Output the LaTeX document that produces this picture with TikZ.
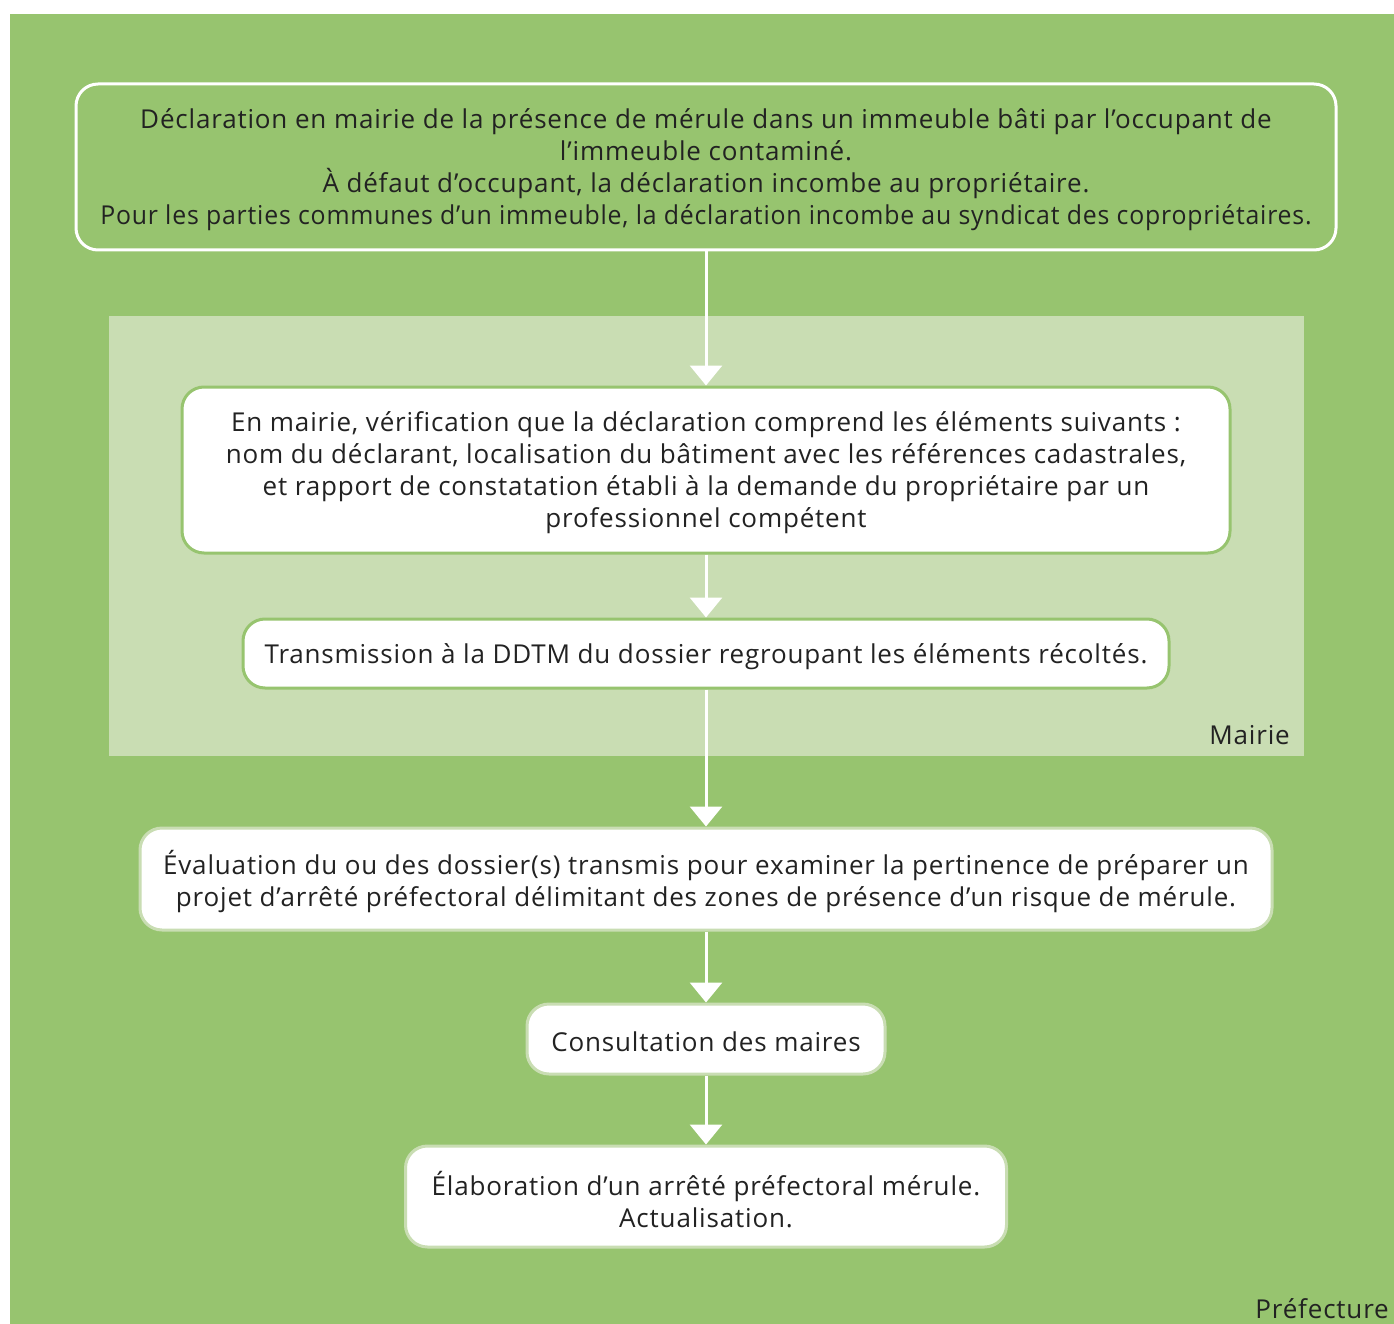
\documentclass[tikz,border=0pt]{standalone}
\usepackage{fontspec}
\setmainfont{Open Sans}[Ligatures=NoCommon, LetterSpace=3.2]
\usetikzlibrary{arrows.meta}
\definecolor{bggreen}{HTML}{97C46F}
\definecolor{lightgreen}{HTML}{C9DDB3}
\definecolor{txt}{HTML}{222222}
\tikzset{
  box/.style={rounded corners=22pt, line width=3pt, inner sep=0pt},
  whitebox/.style={box, draw=bggreen, fill=white},
  paleedgebox/.style={box, draw=lightgreen, fill=white},
  greenbox/.style={box, draw=white, fill=bggreen},
  boxtext/.style={align=center, text=txt, inner sep=0pt, yshift=-3pt,
    font=\fontsize{26}{32}\selectfont},
  flow/.style={draw=white, line width=3pt, -{Triangle[width=32pt,length=20pt]}},
  lbl/.style={text=txt, font=\fontsize{26}{32}\selectfont, inner sep=0pt}
}
\begin{document}
\begin{tikzpicture}[x=1pt,y=-1pt]
\useasboundingbox (0,0) rectangle (1394,1324);
\fill[white] (0,0) rectangle (1394,1324);
\fill[bggreen] (10,14) rectangle (1394,1324);
\fill[lightgreen] (109,316) rectangle (1304,756);
\node[greenbox, minimum width=1260pt, minimum height=166pt] (b1) at (706,167) {};
\node[boxtext] (t1) at (b1.center)
 {Déclaration en mairie de la présence de mérule dans un immeuble bâti par l’occupant de\\
  l’immeuble contaminé.\\
  À défaut d’occupant, la déclaration incombe au propriétaire.\\
  \scalebox{0.955}[1]{Pour les parties communes d’un immeuble, la déclaration incombe au syndicat des copropriétaires.}};
\node[whitebox, minimum width=1048pt, minimum height=166pt] (b2) at (706,470) {};
\node[boxtext] (t2) at (b2.center)
 {En mairie, vérification que la déclaration comprend les éléments suivants :\\
  nom du déclarant, localisation du bâtiment avec les références cadastrales,\\
  et rapport de constatation établi à la demande du propriétaire par un\\
  professionnel compétent};
\node[whitebox, minimum width=926pt, minimum height=69pt] (b3) at (706,653.5) {};
\node[boxtext] (t3) at (b3.center)
 {Transmission à la DDTM du dossier regroupant les éléments récoltés.};
\node[paleedgebox, minimum width=1132pt, minimum height=102pt] (b4) at (706,879) {};
\node[boxtext] (t4) at (b4.center)
 {Évaluation du ou des dossier(s) transmis pour examiner la pertinence de préparer un\\
  projet d’arrêté préfectoral délimitant des zones de présence d’un risque de mérule.};
\node[paleedgebox, minimum width=358pt, minimum height=70pt] (b5) at (706,1039) {};
\node[boxtext] (t5) at (b5.center) {Consultation des maires};
\node[paleedgebox, minimum width=601pt, minimum height=101pt] (b6) at (706,1196.5) {};
\node[boxtext] (t6) at (b6.center)
 {Élaboration d’un arrêté préfectoral mérule.\\ Actualisation.};
\node[lbl, anchor=east] (mairie) at (1290,735) {Mairie};
\node[lbl, anchor=east] (pref) at (1389,1309) {Préfecture};
\draw[flow] (b1.south) -- (b2.north);
\draw[flow] (b2.south) -- (b3.north);
\draw[flow] (b3.south) -- (b4.north);
\draw[flow] (b4.south) -- (b5.north);
\draw[flow] (b5.south) -- (b6.north);
\end{tikzpicture}
\end{document}
